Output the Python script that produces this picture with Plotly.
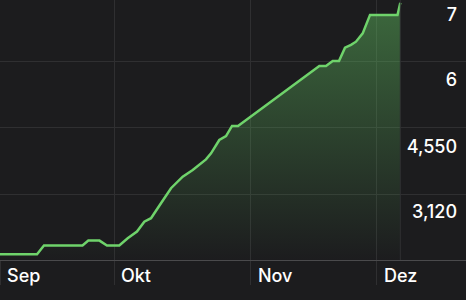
import plotly.graph_objects as go

# x positions (trading-day index), y values
x_vals = [0, 6.17, 7.33, 13.75, 14.72, 16.58, 17.83, 19.88, 21.28, 22.83, 24.05, 25.17,
          26.83, 28.5, 30.45, 32.12, 34.33, 35.17, 36.55, 37.67, 38.67, 39.67, 53.22,
          54.33, 55.45, 56.5, 57.5, 58.5, 59.33, 60.45, 61.67, 66.25, 66.72]
y_vals = [1815, 1815, 2005, 2005, 2110, 2110, 2005, 2005, 2160, 2305, 2520, 2595,
          2920, 3245, 3495, 3640, 3870, 4000, 4290, 4375, 4595, 4595, 5895,
          5895, 6000, 6000, 6290, 6350, 6420, 6600, 7000, 7000, 7265]

month_pos = [0, 19, 41.83, 62.83]
month_labels = ["Sep", "Okt", "Nov", "Dez"]

grid_vals = [3120, 4550, 5980]
label_vals = [2730, 4138, 5590, 7000]
label_text = ["3,120", "4,550", "6", "7"]

BG = "#1c1c1e"
GRID = "#2f2f31"
LINE = "#6fd36b"

fig = go.Figure()
fig.add_trace(go.Scatter(
    x=x_vals, y=y_vals, mode="lines",
    line=dict(color=LINE, width=2.5),
    fill="tozeroy",
    fillgradient=dict(type="vertical", start=1690, stop=7300,
                      colorscale=[[0, "rgba(100,200,100,0.0)"], [1, "rgba(100,200,100,0.45)"]]),
    hoverinfo="skip", showlegend=False,
))
# invisible trace for label axis
fig.add_trace(go.Scatter(x=[x_vals[0]], y=[y_vals[0]], yaxis="y2", mode="markers",
                         marker=dict(opacity=0), showlegend=False, hoverinfo="skip"))

fig.add_shape(type="line", xref="x", yref="paper", x0=x_vals[-1], x1=x_vals[-1], y0=0, y1=1,
              line=dict(color=GRID, width=1))

fig.update_layout(
    width=466, height=300,
    margin=dict(l=0, r=0, t=0, b=40),
    paper_bgcolor=BG, plot_bgcolor=BG,
    font=dict(family="Inter", size=18, color="white", weight=500),
    xaxis=dict(range=[0, 466/6], tickvals=month_pos, ticktext=month_labels,
               showgrid=True, gridcolor=GRID, gridwidth=1, zeroline=False,
               showline=True, linecolor="#4a4a4c", linewidth=1,
               ticks="outside", ticklen=24, tickcolor=GRID,
               ticklabelposition="outside right", ticklabelstandoff=-1, ticklabelshift=6,
               tickfont=dict(size=18, color="white", weight=500)),
    yaxis=dict(range=[1690, 7323], tickvals=grid_vals, showticklabels=False,
               showgrid=True, gridcolor=GRID, gridwidth=1, zeroline=False, side="right"),
    yaxis2=dict(range=[1690, 7323], overlaying="y", side="right", tickvals=label_vals,
                ticktext=label_text, showgrid=False, zeroline=False,
                ticklabelposition="inside", ticklabelstandoff=6,
                tickfont=dict(size=18, color="white", weight=500)),
)
fig.write_html("out.html")
